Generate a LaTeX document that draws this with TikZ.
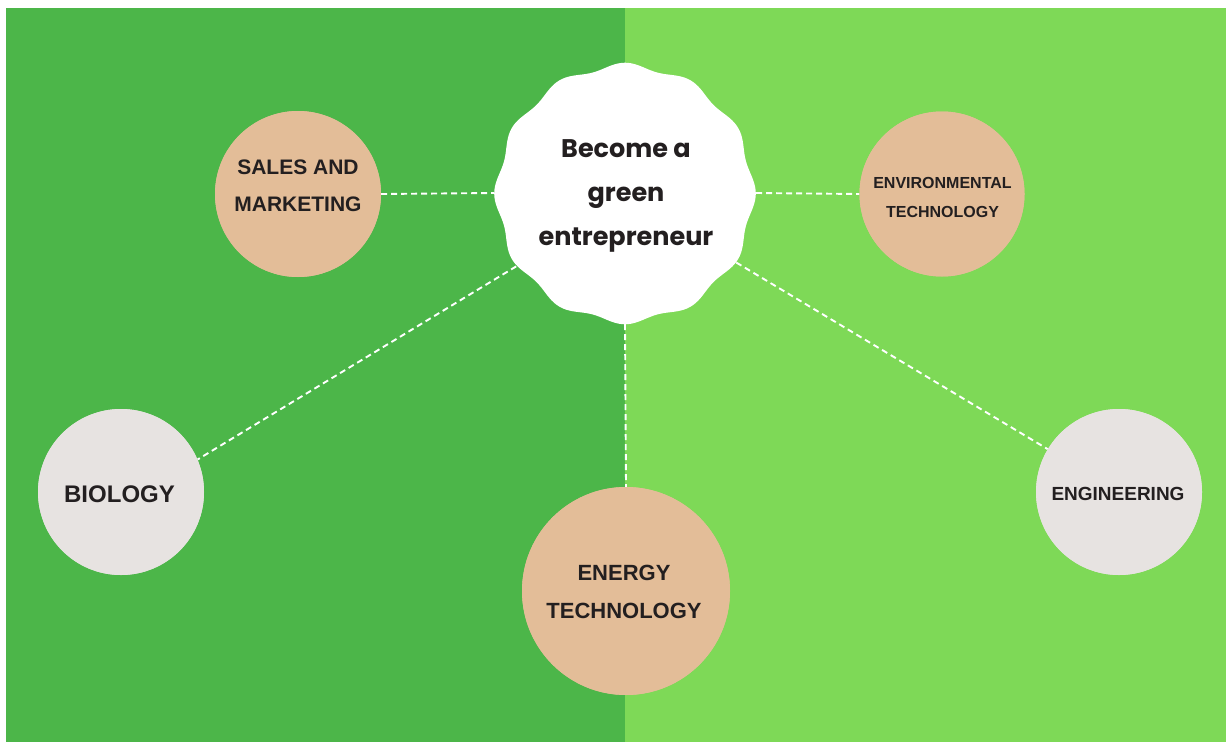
\documentclass[tikz,border=0pt]{standalone}
\usepackage{fontspec}
\setmainfont{Liberation Sans}
\newfontfamily\popfont{Poppins}
\definecolor{darkg}{HTML}{4CB649}
\definecolor{lightg}{HTML}{7ED957}
\definecolor{peachc}{HTML}{E3BD98}
\definecolor{greyc}{HTML}{E7E3E1}
\definecolor{ink}{HTML}{231F20}
\tikzset{
  bubble/.style={circle, inner sep=0pt, draw=none},
  peachbubble/.style={bubble, fill=peachc},
  greybubble/.style={bubble, fill=greyc},
  lbl/.style={align=center, inner sep=0pt, text=ink, font=\bfseries},
  link/.style={draw=white, line width=1.9pt, dash pattern=on 6pt off 4pt},
}
\begin{document}
\begin{tikzpicture}[x=1pt,y=-1pt]
\useasboundingbox (0,0) rectangle (1226,742);
\fill[white] (0,0) rectangle (1226,742);
\fill[darkg] (6,8) rectangle (625,742);
\fill[lightg] (625,8) rectangle (1226,742);
% anchor nodes
\node[bubble, minimum size=262] (star) at (625,193) {};
\node[peachbubble, minimum size=166] (sales) at (298,194) {};
\node[peachbubble, minimum size=165] (env) at (942,194) {};
\node[greybubble, minimum size=166] (bio) at (121,492) {};
\node[greybubble, minimum size=166] (eng) at (1119,492) {};
\node[peachbubble, minimum size=208] (energy) at (626,591) {};
% connectors
\draw[link] (sales.east) -- (star.west);
\draw[link] (star.east) -- (env.west);
\draw[link] (star.214) -- (bio.23);
\draw[link] (star.-32) -- (eng.149);
\draw[link] (star.south) -- (energy.north);
% redraw bubbles on top
\fill[peachc] (sales) circle (83);
\fill[peachc] (env) circle (82.5);
\fill[greyc] (bio) circle (83);
\fill[greyc] (eng) circle (83);
\fill[peachc] (energy) circle (104);
\fill[white] plot[domain=0:360, samples=241, smooth cycle]
  ({625+(128+2.8*cos(12*\x))*cos(\x)}, {193.5+(128+2.8*cos(12*\x))*sin(\x)});
% labels
\node[lbl, font=\popfont\bfseries\fontsize{25.5}{44}\selectfont] (starT) at (626,196) {Become a\\green\\entrepreneur};
\node[lbl, font=\bfseries\fontsize{21}{37}\selectfont] (salesT) at (298,186) {SALES AND\\MARKETING};
\node[lbl, font=\bfseries\fontsize{16}{29}\selectfont] (envT) at (942.5,197) {ENVIRONMENTAL\\TECHNOLOGY};
\node[lbl, font=\bfseries\fontsize{24}{28}\selectfont] (bioT) at (119.5,494.5) {BIOLOGY};
\node[lbl, font=\bfseries\fontsize{19}{23}\selectfont] (engT) at (1118,494) {ENGINEERING};
\node[lbl, font=\bfseries\fontsize{22}{38}\selectfont] (energyT) at (624,591.5) {ENERGY\\TECHNOLOGY};
\end{tikzpicture}
\end{document}
